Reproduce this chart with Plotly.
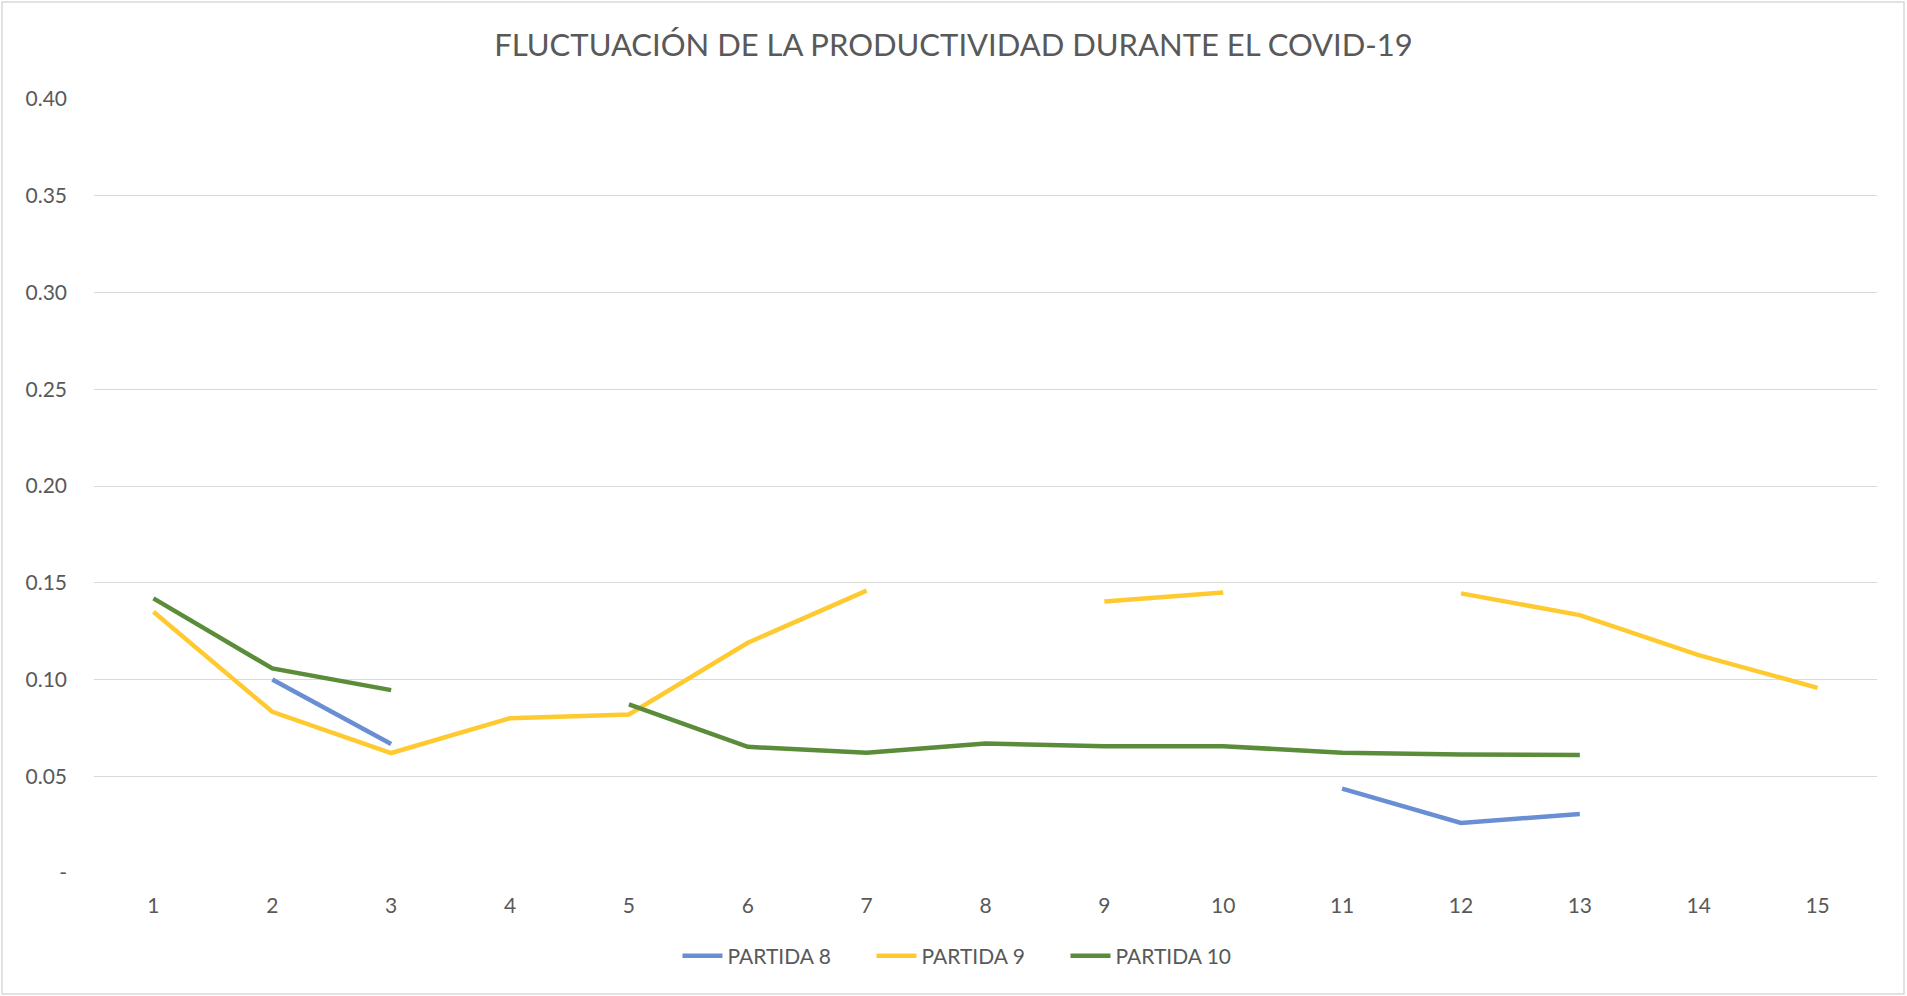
import plotly.graph_objects as go

# Datos (None = sin dato)
dias = list(range(1, 16))
partida_8 = [None, 0.100, 0.0667, None, None, None, None, None, None, None,
             0.0436, 0.0259, 0.0305, None, None]
partida_9 = [0.135, 0.0833, 0.062, 0.080, 0.0819, 0.119, 0.1459, None, 0.1403, 0.145,
             None, 0.1445, 0.1333, 0.1126, 0.0957]
partida_10 = [0.1419, 0.1057, 0.0945, None, 0.0871, 0.0652, 0.0621, 0.0669, 0.0655, 0.0655,
              0.0622, 0.0612, 0.061, None, None]

y_ticks = [0, 0.05, 0.10, 0.15, 0.20, 0.25, 0.30, 0.35, 0.40]
y_labels = ['-', '0.05', '0.10', '0.15', '0.20', '0.25', '0.30', '0.35', '0.40']

fuente = 'Lato'
gris = '#595959'

# área de trazado en píxeles
izq, der, arr, aba = 94, 1877, 99, 873
ancho, alto = der - izq, aba - arr

fig = go.Figure()

series = [
    ('PARTIDA 8', partida_8, '#6A8ED3'),
    ('PARTIDA 9', partida_9, '#FFCA30'),
    ('PARTIDA 10', partida_10, '#5B8C3A'),
]
for nombre, valores, color in series:
    fig.add_trace(go.Scatter(
        x=dias,
        y=valores,
        name=nombre,
        mode='lines',
        connectgaps=False,
        line=dict(color=color, width=4.5),
    ))

fig.update_layout(
    width=1907,
    height=996,
    paper_bgcolor='white',
    plot_bgcolor='white',
    margin=dict(l=izq, r=1907 - der, t=arr, b=996 - aba),
    title=dict(
        text='FLUCTUACIÓN DE LA PRODUCTIVIDAD DURANTE EL COVID-19',
        x=0.5, xanchor='center',
        y=1 - 45 / 996, yanchor='middle',
        font=dict(family=fuente, size=31, color=gris),
    ),
    xaxis=dict(
        range=[0.5, 15.5],
        tickvals=dias,
        showgrid=False,
        zeroline=False,
        showline=False,
        ticklabelstandoff=18,
        tickfont=dict(family=fuente, size=21, color=gris),
        fixedrange=True,
    ),
    yaxis=dict(
        range=[0, 0.4],
        tickvals=y_ticks,
        ticktext=y_labels,
        showgrid=True,
        gridcolor='#D9D9D9',
        gridwidth=1.3,
        zeroline=False,
        ticklabelstandoff=26,
        tickfont=dict(family=fuente, size=21, color=gris),
        fixedrange=True,
    ),
    legend=dict(
        orientation='h',
        x=0.5 - 17 / ancho, xanchor='center',
        y=(aba - 956) / alto, yanchor='middle',
        font=dict(family=fuente, size=21, color=gris),
        itemwidth=40,
        entrywidth=139,
    ),
    shapes=[dict(
        type='rect', xref='paper', yref='paper',
        x0=(2 - izq) / ancho, x1=(1904 - izq) / ancho,
        y0=(aba - 994) / alto, y1=(aba - 2) / alto,
        line=dict(color='#D9D9D9', width=1.5),
    )],
)

fig.write_html('out.html', config={'displayModeBar': False},
               post_script="document.body.style.margin='0';")
